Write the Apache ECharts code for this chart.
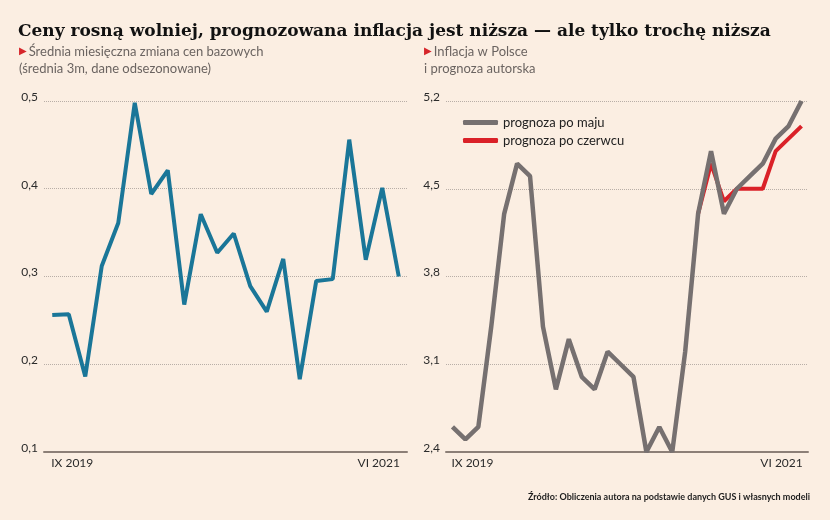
<!DOCTYPE html>
<html>
<head>
<meta charset="utf-8">
<script src="https://cdn.jsdelivr.net/npm/echarts@6/dist/echarts.min.js"></script>
<style>
  html, body { margin: 0; padding: 0; background: #fbeee2; }
  #chart { width: 830px; height: 520px; }
</style>
</head>
<body>
<div id="chart"></div>
<script>
/* dane - lewy wykres: srednia miesieczna zmiana cen bazowych */
var monthsLeft = ['IX 2019', 'X 2019', 'XI 2019', 'XII 2019', 'I 2020', 'II 2020', 'III 2020', 'IV 2020',
    'V 2020', 'VI 2020', 'VII 2020', 'VIII 2020', 'IX 2020', 'X 2020', 'XI 2020', 'XII 2020',
    'I 2021', 'II 2021', 'III 2021', 'IV 2021', 'V 2021', 'VI 2021'];
var coreChange = [0.256, 0.257, 0.186, 0.312, 0.361, 0.498, 0.394, 0.421, 0.268, 0.371, 0.327,
    0.349, 0.289, 0.260, 0.320, 0.183, 0.295, 0.297, 0.456, 0.319, 0.401, 0.300];
var yTicksLeft = [0.1, 0.2, 0.3, 0.4, 0.5];

/* prawy wykres: inflacja i prognozy */
var monthsRight = ['IX 2019', 'X 2019', 'XI 2019', 'XII 2019', 'I 2020', 'II 2020', 'III 2020', 'IV 2020',
    'V 2020', 'VI 2020', 'VII 2020', 'VIII 2020', 'IX 2020', 'X 2020', 'XI 2020', 'XII 2020',
    'I 2021', 'II 2021', 'III 2021', 'IV 2021', 'V 2021', 'VI 2021', 'VII 2021', 'VIII 2021',
    'IX 2021', 'X 2021', 'XI 2021', 'XII 2021'];
var forecastMay = [2.6, 2.5, 2.6, 3.4, 4.3, 4.7, 4.6, 3.4, 2.9, 3.3, 3.0, 2.9, 3.2, 3.1,
    3.0, 2.4, 2.6, 2.4, 3.2, 4.3, 4.8, 4.3, 4.5, 4.6, 4.7, 4.9, 5.0, 5.2];
var forecastJune = ['-', '-', '-', '-', '-', '-', '-', '-', '-', '-', '-', '-', '-', '-',
    '-', '-', '-', '-', '-', 4.3, 4.7, 4.4, 4.5, 4.5, 4.5, 4.8, 4.9, 5.0];
var yTicksRight = [2.4, 3.1, 3.8, 4.5, 5.2];

/* etykiety osi X: tylko pierwsza i ostatnia */
var xEndLabels = ['IX 2019', 'VI 2021'];

var legendNames = ['prognoza po maju', 'prognoza po czerwcu'];

function fmt(v) {
    return '{v|' + Number(v).toFixed(1).replace('.', ',') + '}';
}
// etykieta troche nad linia siatki
var tickRich = { v: { fontFamily: 'Lato', fontSize: 12, color: '#2b2b2b', padding: [0, 0, 8, 0] } };

function xAxisFor(gridIndex, cats) {
    var last = cats.length - 1;
    var show = function (i) { return i === 0 || i === last; };
    return {
        type: 'category',
        gridIndex: gridIndex,
        data: cats,
        boundaryGap: true,
        axisLine: { lineStyle: { color: '#8c7f77', width: 2 } },
        axisTick: {
            alignWithLabel: true,
            inside: true,
            length: 9,
            interval: function (i) { return show(i); },
            lineStyle: { color: '#a09792', width: 1 }
        },
        axisLabel: {
            interval: function (i) { return show(i); },
            margin: 5,
            fontFamily: 'Lato',
            fontSize: 12,
            color: '#2b2b2b',
            formatter: function (v, i) {
                if (i === 0) return '{a|' + xEndLabels[0] + '}';
                return '{b|' + xEndLabels[1] + '}';
            },
            rich: {
                a: { fontFamily: 'Lato', fontSize: 12, color: '#2b2b2b', padding: [0, 0, 0, 40] },
                b: { fontFamily: 'Lato', fontSize: 12, color: '#2b2b2b', padding: [0, 40, 0, 0] }
            }
        },
        splitLine: { show: false }
    };
}

var chart = echarts.init(document.getElementById('chart'), null, { renderer: 'canvas' });

var gridLinesRight = yTicksRight.map(function (v, i) {
    return {
        yAxis: v,
        lineStyle: i === 0 ? { color: 'rgba(0,0,0,0)' } : { color: '#b8aea7', type: 'dotted', width: 1 }
    };
});

var subRich = {
    t: { color: '#d6252a', fontSize: 10, fontFamily: 'DejaVu Sans', lineHeight: 17, padding: [0, 2, 0, 0] },
    s: { color: '#6b6461', fontSize: 13, fontFamily: 'Lato', fontWeight: 'normal', lineHeight: 17 }
};

var option = {
    backgroundColor: '#fbeee2',
    animation: false,
    title: [{
        text: 'Ceny rosną wolniej, prognozowana inflacja jest niższa — ale tylko trochę niższa',
        left: 13,
        top: 18,
        textStyle: { fontFamily: 'DejaVu Serif', fontWeight: 'bold', fontSize: 17, color: '#111' }
    }, {
        text: '{t|▶}{s|Średnia miesięczna zmiana cen bazowych}\n{s|(średnia 3m, dane odsezonowane)}',
        left: 14,
        top: 38,
        textStyle: { fontWeight: 'normal', rich: subRich }
    }, {
        text: '{t|▶}{s|Inflacja w Polsce}\n{s|i prognoza autorska}',
        left: 419,
        top: 38,
        textStyle: { fontWeight: 'normal', rich: subRich }
    }, {
        text: 'Źródło: Obliczenia autora na podstawie danych GUS i własnych modeli',
        right: 15,
        top: 488,
        textStyle: { fontFamily: 'Lato', fontWeight: 'bold', fontSize: 9, color: '#1d1d1d' }
    }],
    legend: {
        data: legendNames,
        orient: 'vertical',
        left: 458,
        top: 111,
        itemWidth: 35,
        itemHeight: 5,
        itemGap: 5,
        icon: 'roundRect',
        textStyle: { fontFamily: 'Lato', fontSize: 13, color: '#222' },
        selectedMode: false
    },
    grid: [
        { left: 44, width: 363, top: 101, height: 351 },
        { left: 446, width: 362, top: 101, height: 351 }
    ],
    xAxis: [xAxisFor(0, monthsLeft), xAxisFor(1, monthsRight)],
    yAxis: [{
        type: 'value',
        gridIndex: 0,
        min: yTicksLeft[0],
        max: yTicksLeft[yTicksLeft.length - 1],
        interval: 0.1,
        axisLine: { show: false },
        axisTick: { show: false },
        axisLabel: {
            margin: 6,
            formatter: fmt,
            rich: tickRich
        },
        splitLine: { lineStyle: { color: '#b8aea7', type: 'dotted', width: 1 } }
    }, {
        type: 'value',
        gridIndex: 1,
        min: yTicksRight[0],
        max: yTicksRight[yTicksRight.length - 1],
        axisLine: { show: false },
        axisTick: { show: false },
        axisLabel: { show: false },
        splitLine: { show: false }
    }],
    series: [{
        name: 'zmiana cen bazowych',
        type: 'line',
        xAxisIndex: 0,
        yAxisIndex: 0,
        data: coreChange,
        symbol: 'none',
        lineStyle: { color: '#1a7698', width: 4 }
    }, {
        name: legendNames[1],
        type: 'line',
        xAxisIndex: 1,
        yAxisIndex: 1,
        data: forecastJune,
        symbol: 'none',
        itemStyle: { color: '#da2128' },
        lineStyle: { color: '#da2128', width: 4 }
    }, {
        name: legendNames[0],
        type: 'line',
        xAxisIndex: 1,
        yAxisIndex: 1,
        data: forecastMay,
        symbol: 'none',
        itemStyle: { color: '#767070' },
        lineStyle: { color: '#767070', width: 4.5 },
        markLine: {
            silent: true,
            symbol: ['none', 'none'],
            z: 1,
            label: {
                position: 'start',
                distance: 6,
                color: '#2b2b2b',
                rich: tickRich,
                formatter: function (p) { return fmt(p.value); }
            },
            data: gridLinesRight
        }
    }]
};
chart.setOption(option);
</script>
</body>
</html>
